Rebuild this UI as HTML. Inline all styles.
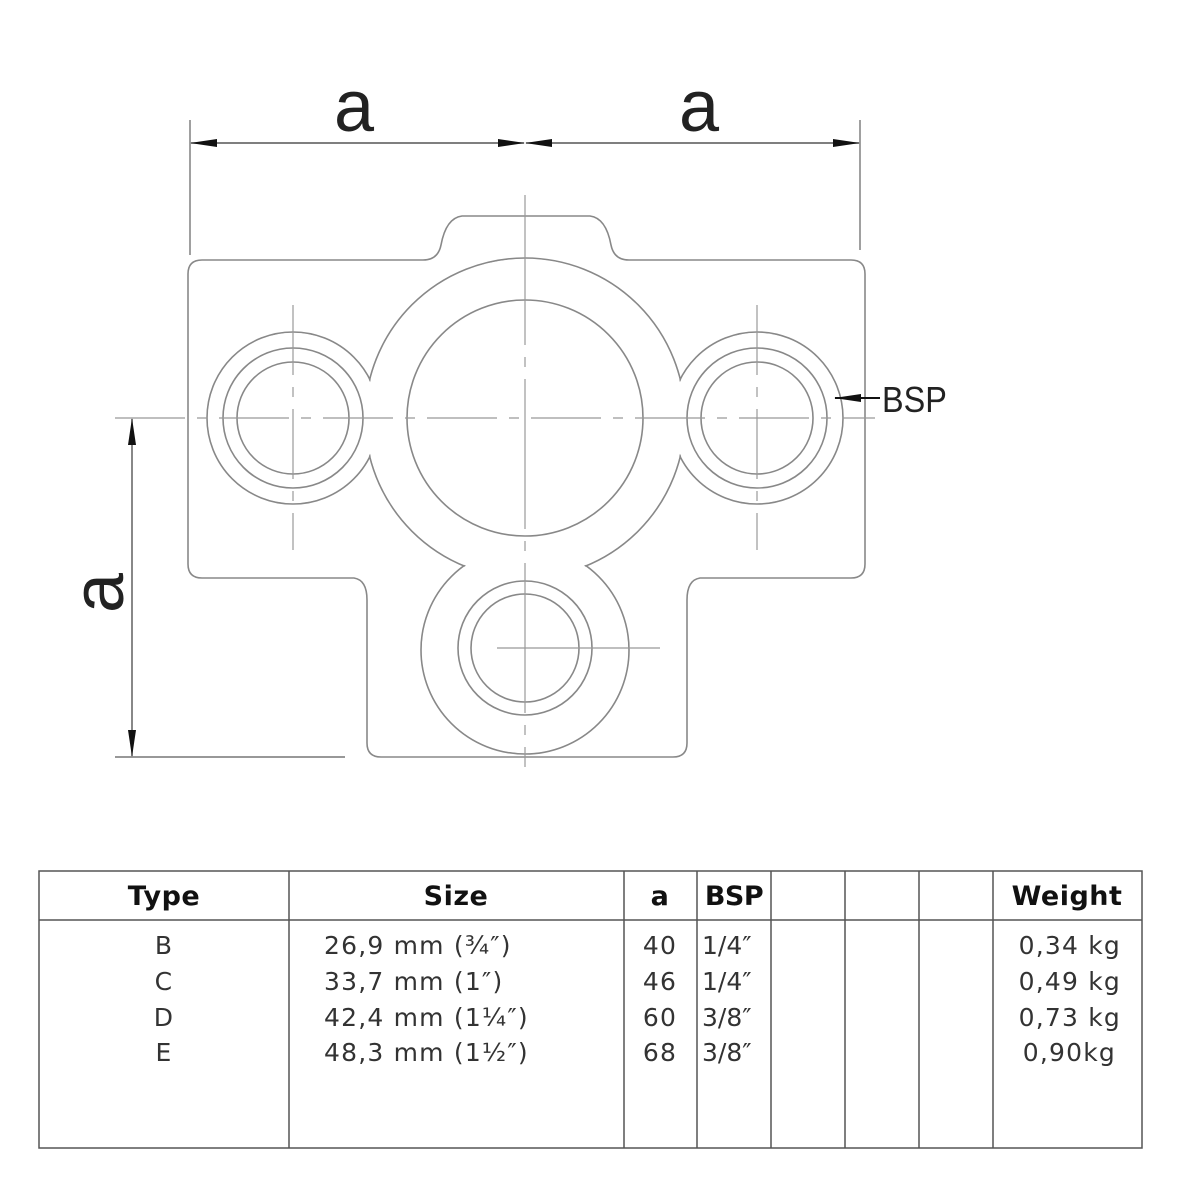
<!DOCTYPE html>
<html><head><style>
html,body{margin:0;padding:0;background:#fff;}
svg{display:block;}
</style></head><body>
<svg width="1182" height="1182" viewBox="0 0 1182 1182" xmlns="http://www.w3.org/2000/svg">
<defs>
<marker id="ar" markerWidth="30" markerHeight="10" refX="26" refY="5" orient="auto-start-reverse" markerUnits="userSpaceOnUse">
<path d="M0,1 L27,5 L0,9 Z" fill="#111"/>
</marker>
</defs>
<g fill="none" stroke="#888" stroke-width="1.6">
<path d="M202,260 L423,260 Q438,260 441,245 Q446,218 462,216 L590,216 Q606,218 611,245 Q614,260 629,260 L851,260 Q865,260 865,274 L865,564 Q865,578 851,578 L700,578 Q687,580 687,600 L687,743 Q687,757 673,757 L381,757 Q367,757 367,743 L367,600 Q367,580 354,578 L202,578 Q188,578 188,564 L188,274 Q188,260 202,260 Z"/>
<circle cx="525" cy="418" r="160"/>
<circle cx="293" cy="418" r="86"/>
<circle cx="757" cy="418" r="86"/>
<circle cx="525" cy="650" r="104"/>
</g>
<g fill="#fff" stroke="none">
<circle cx="525" cy="418" r="159"/>
<circle cx="293" cy="418" r="85"/>
<circle cx="757" cy="418" r="85"/>
<circle cx="525" cy="650" r="103"/>
</g>
<g fill="none" stroke="#888" stroke-width="1.6">
<circle cx="525" cy="418" r="118"/>
<circle cx="293" cy="418" r="70"/>
<circle cx="293" cy="418" r="56"/>
<circle cx="757" cy="418" r="70"/>
<circle cx="757" cy="418" r="56"/>
<circle cx="525" cy="648" r="67"/>
<circle cx="525" cy="648" r="54"/>
</g>
<g stroke="#999" stroke-width="1.2" fill="none">
<line x1="115" y1="418" x2="875" y2="418" stroke-dasharray="70,12,10,12"/>
<line x1="525" y1="195" x2="525" y2="767" stroke-dasharray="150,12,10,12"/>
<line x1="293" y1="305" x2="293" y2="550" stroke-dasharray="70,12,10,12"/>
<line x1="757" y1="305" x2="757" y2="550" stroke-dasharray="70,12,10,12"/>
<line x1="497" y1="648" x2="660" y2="648"/>
</g>
<g stroke="#777" stroke-width="1.4" fill="none">
<line x1="190" y1="120" x2="190" y2="255"/>
<line x1="860" y1="120" x2="860" y2="250"/>
<line x1="115" y1="757" x2="345" y2="757"/>
</g>
<g stroke="#555" stroke-width="1.4">
<line x1="191" y1="143" x2="524" y2="143" marker-start="url(#ar)" marker-end="url(#ar)"/>
<line x1="526" y1="143" x2="859" y2="143" marker-start="url(#ar)" marker-end="url(#ar)"/>
<line x1="132" y1="419" x2="132" y2="756" marker-start="url(#ar)" marker-end="url(#ar)"/>
<line x1="880" y1="398" x2="835" y2="398" stroke="#111" stroke-width="2" marker-end="url(#ar)"/>
</g>
<g font-family="Liberation Sans, sans-serif" fill="#222">
<text x="354" y="131" font-size="72" text-anchor="middle">a</text>
<text x="699" y="131" font-size="72" text-anchor="middle">a</text>
<text transform="translate(123,593) rotate(-90)" font-size="72" text-anchor="middle">a</text>
<text x="882" y="412" font-size="36" transform="translate(882,0) scale(0.9,1) translate(-882,0)">BSP</text>
</g>
<g stroke="#555" stroke-width="1.5" fill="none">
<rect x="39" y="871" width="1103" height="277"/>
<line x1="39" y1="920" x2="1142" y2="920"/>
<line x1="289" y1="871" x2="289" y2="1148"/>
<line x1="624" y1="871" x2="624" y2="1148"/>
<line x1="697" y1="871" x2="697" y2="1148"/>
<line x1="771" y1="871" x2="771" y2="1148"/>
<line x1="845" y1="871" x2="845" y2="1148"/>
<line x1="919" y1="871" x2="919" y2="1148"/>
<line x1="993" y1="871" x2="993" y2="1148"/>
</g>
<g font-family="DejaVu Sans, sans-serif" font-weight="bold" font-size="27" fill="#111" text-anchor="middle" letter-spacing="0.5">
<text x="164" y="905">Type</text>
<text x="456" y="905">Size</text>
<text x="660" y="905">a</text>
<text x="734" y="905" letter-spacing="-0.5">BSP</text>
<text x="1067" y="905">Weight</text>
</g>
<g font-family="DejaVu Sans, sans-serif" font-size="25" fill="#333" letter-spacing="1.2">
<g text-anchor="middle">
<text x="164" y="954">B</text><text x="164" y="990">C</text><text x="164" y="1026">D</text><text x="164" y="1061">E</text>
<text x="660" y="954">40</text><text x="660" y="990">46</text><text x="660" y="1026">60</text><text x="660" y="1061">68</text>
</g>
<text x="324" y="954">26,9 mm (¾″)</text>
<text x="324" y="990">33,7 mm (1″)</text>
<text x="324" y="1026">42,4 mm (1¼″)</text>
<text x="324" y="1061">48,3 mm (1½″)</text>
<text x="702" y="954" letter-spacing="0">1/4″</text>
<text x="702" y="990" letter-spacing="0">1/4″</text>
<text x="702" y="1026" letter-spacing="0">3/8″</text>
<text x="702" y="1061" letter-spacing="0">3/8″</text>
<g text-anchor="end">
<text x="1121" y="954">0,34 kg</text>
<text x="1121" y="990">0,49 kg</text>
<text x="1121" y="1026">0,73 kg</text>
<text x="1116" y="1061">0,90kg</text>
</g>
</g>
</svg>
</body></html>
